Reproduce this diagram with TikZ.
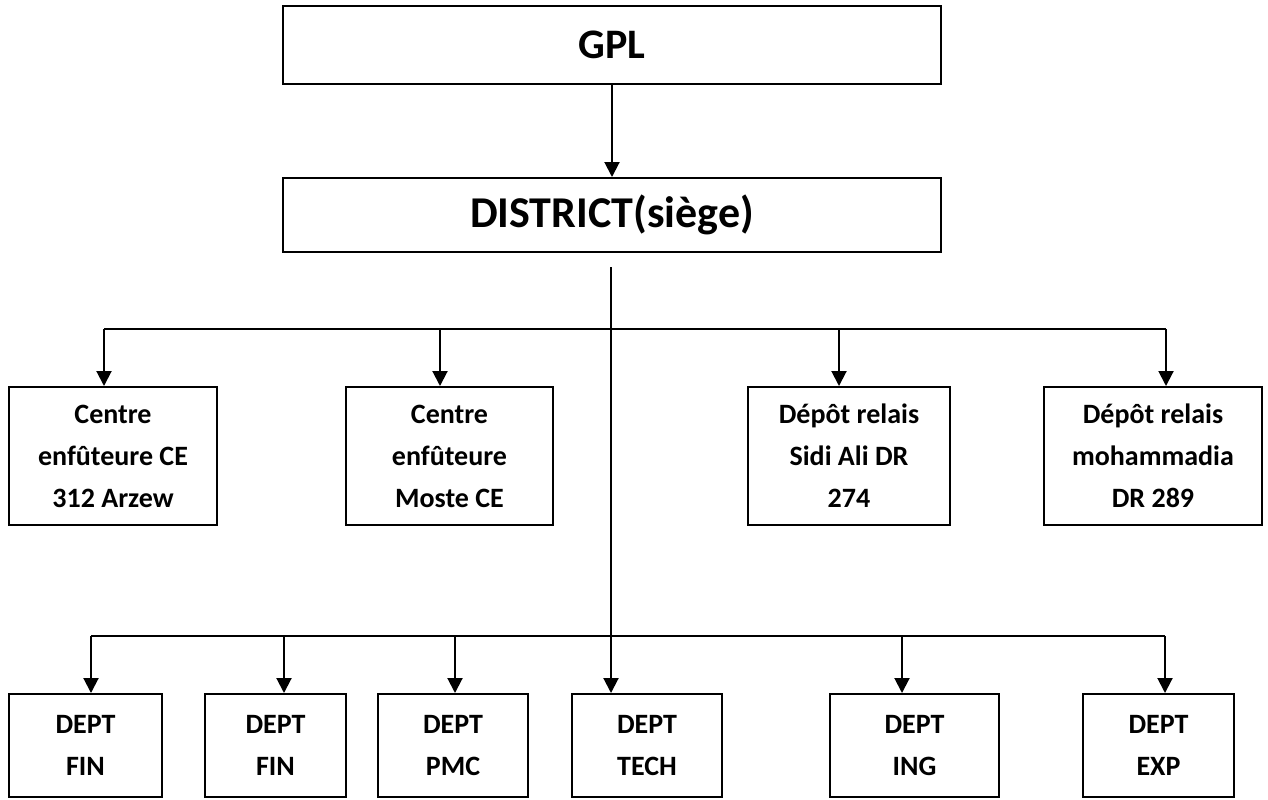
\documentclass[tikz,border=0pt]{standalone}
\usepackage{fontspec}
\setmainfont{Carlito}
\usetikzlibrary{arrows.meta}
\begin{document}
\begin{tikzpicture}[x=0.5pt,y=-0.5pt,
  box/.style={draw=black,line width=1pt,inner sep=0pt,align=center,font=\bfseries\fontsize{14}{21}\selectfont},
  bigbox/.style={box,font=\bfseries\fontsize{21}{25}\selectfont},
  conn/.style={line width=1pt,draw=black},
  arr/.style={conn,-{Triangle[length=7.5pt,width=7.5pt]}}]
\useasboundingbox (0,0) rectangle (1268,799);
% top boxes
\node[bigbox,minimum width=329pt,minimum height=39pt] (gpl) at (612,45) {GPL};
\node[bigbox,minimum width=329pt,minimum height=37pt,font=\bfseries\fontsize{22}{26}\selectfont] (dist) at (612,215) {DISTRICT(siège)};
% row 1
\node[box,minimum width=104pt,minimum height=69pt] (c1) at (113,456) {Centre\\enfûteure CE\\312 Arzew};
\node[box,minimum width=103.5pt,minimum height=69pt] (c2) at (449.5,456) {Centre\\enfûteure\\Moste CE};
\node[box,minimum width=101pt,minimum height=69pt] (d1) at (849,456) {Dépôt relais\\Sidi Ali DR\\274};
\node[box,minimum width=109pt,minimum height=69pt] (d2) at (1153,456) {Dépôt relais\\mohammadia\\DR 289};
% row 2
\node[box,minimum width=76.5pt,minimum height=51.5pt] (e1) at (85.5,745.5) {DEPT\\FIN};
\node[box,minimum width=70.5pt,minimum height=51.5pt] (e2) at (275.5,745.5) {DEPT\\FIN};
\node[box,minimum width=75pt,minimum height=51.5pt] (e3) at (453,745.5) {DEPT\\PMC};
\node[box,minimum width=75pt,minimum height=51.5pt] (e4) at (647,745.5) {DEPT\\TECH};
\node[box,minimum width=84.5pt,minimum height=51.5pt] (e5) at (914.5,745.5) {DEPT\\ING};
\node[box,minimum width=75.5pt,minimum height=51.5pt] (e6) at (1158.5,745.5) {DEPT\\EXP};
% connectors
\draw[arr] (gpl.south) -- (dist.north);
\coordinate (t0) at (611,267);
\coordinate (b1) at (104,329);
\coordinate (b2) at (440,329);
\coordinate (b3) at (839,329);
\coordinate (b4) at (1166,329);
\coordinate (g1) at (91,636);
\coordinate (g2) at (284,636);
\coordinate (g3) at (455,636);
\coordinate (g5) at (902,636);
\coordinate (g6) at (1165,636);
\draw[conn] (b1) -- (b4);
\draw[conn] (g1) -- (g6);
\draw[arr] (t0) -- (t0 |- e4.north);
\foreach \b/\n in {b1/c1,b2/c2,b3/d1,b4/d2,g1/e1,g2/e2,g3/e3,g5/e5,g6/e6}
  \draw[arr] (\b) -- (\b |- \n.north);
\end{tikzpicture}
\end{document}
